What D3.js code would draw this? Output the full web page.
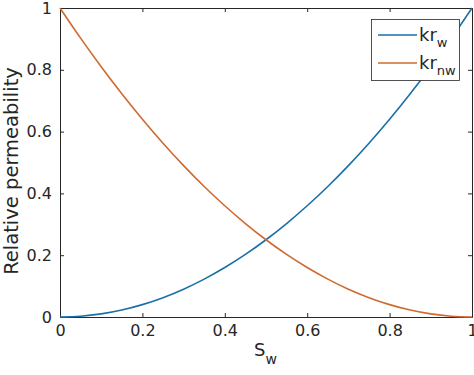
<!DOCTYPE html>
<html>
<head>
<meta charset="utf-8">
<script src="https://cdn.jsdelivr.net/npm/d3@7"></script>
<style>
  body { margin: 0; background: #fff; }
  text { font-family: "DejaVu Sans", sans-serif; fill: #262626; }
</style>
</head>
<body>
<div id="chart"></div>
<script>
const sw = [0, 0.05, 0.1, 0.15, 0.2, 0.25, 0.3, 0.35, 0.4, 0.45, 0.5, 0.55, 0.6, 0.65, 0.7, 0.75, 0.8, 0.85, 0.9, 0.95, 1]
const krw = [0, 0.0025, 0.01, 0.0225, 0.04, 0.0625, 0.09, 0.1225, 0.16, 0.2025, 0.25, 0.3025, 0.36, 0.4225, 0.49, 0.5625, 0.64, 0.7225, 0.81, 0.9025, 1]
const krnw = [1, 0.9025, 0.81, 0.7225, 0.64, 0.5625, 0.49, 0.4225, 0.36, 0.3025, 0.25, 0.2025, 0.16, 0.1225, 0.09, 0.0625, 0.04, 0.0225, 0.01, 0.0025, 0]
const xTicks = [0, 0.2, 0.4, 0.6, 0.8, 1]
const yTicks = [0, 0.2, 0.4, 0.6, 0.8, 1]

const W = 474, H = 375
const MARGIN = { TOP: 8, BOTTOM: 58, LEFT: 60, RIGHT: 2 }

const svg = d3.select("#chart").append("svg")
  .attr("width", W).attr("height", H)

const x = d3.scaleLinear().domain([0, 1]).range([MARGIN.LEFT, W - MARGIN.RIGHT])
const y = d3.scaleLinear().domain([0, 1]).range([H - MARGIN.BOTTOM, MARGIN.TOP])

const fmt = d => d === 0 || d === 1 ? String(d) : d.toFixed(1)

// axes with inward ticks, box on
const g = svg.append("g")
g.append("g").attr("transform", `translate(0,${y(0)})`)
  .call(d3.axisBottom(x).tickValues(xTicks).tickSizeInner(-4).tickSizeOuter(0).tickPadding(8).tickFormat(fmt))
g.append("g").attr("transform", `translate(0,${y(1)})`)
  .call(d3.axisTop(x).tickValues(xTicks).tickSizeInner(-4).tickSizeOuter(0).tickFormat(""))
g.append("g").attr("transform", `translate(${x(0)},0)`)
  .call(d3.axisLeft(y).tickValues(yTicks).tickSizeInner(-4).tickSizeOuter(0).tickPadding(8).tickFormat(fmt))
g.append("g").attr("transform", `translate(${x(1)},0)`)
  .call(d3.axisRight(y).tickValues(yTicks).tickSizeInner(-4).tickSizeOuter(0).tickFormat(""))

g.selectAll(".domain").attr("stroke", "#262626").attr("stroke-width", 1)
g.selectAll(".tick line").attr("stroke", "#262626")
g.selectAll(".tick text").attr("font-size", 16).attr("fill", "#262626")
  .style("font-family", "DejaVu Sans, sans-serif")

const line = d3.line().x((d, i) => x(sw[i])).y(d => y(d)).curve(d3.curveMonotoneX)

const series = [
  { name: "w", values: krw, color: "#1a70a6" },
  { name: "nw", values: krnw, color: "#cf6a30" }
]

series.forEach(s => {
  svg.append("path").datum(s.values)
    .attr("d", line).attr("fill", "none")
    .attr("stroke", s.color).attr("stroke-width", 1.6)
})

// axis labels
const xl = svg.append("text").attr("x", 254).attr("y", 356)
  .attr("font-size", 18)
xl.append("tspan").text("S")
xl.append("tspan").attr("font-size", 14).attr("dy", 8).text("w")

svg.append("text")
  .attr("transform", `translate(18,171) rotate(-90)`)
  .attr("text-anchor", "middle").attr("font-size", 19.5)
  .text("Relative permeability")

// legend
const lg = svg.append("g")
lg.append("rect").attr("x", 371.5).attr("y", 19.5).attr("width", 88).attr("height", 61)
  .attr("fill", "#fff").attr("stroke", "#262626").attr("stroke-width", 0.8)
series.forEach((s, i) => {
  const ly = 35 + i * 28
  lg.append("line").attr("x1", 378).attr("x2", 417).attr("y1", ly).attr("y2", ly)
    .attr("stroke", s.color).attr("stroke-width", 1.6)
  const t = lg.append("text").attr("x", 419).attr("y", ly + 6).attr("font-size", 18)
  t.append("tspan").text("kr")
  t.append("tspan").attr("font-size", 13).attr("dy", 6).text(s.name)
})
</script>
</body>
</html>
